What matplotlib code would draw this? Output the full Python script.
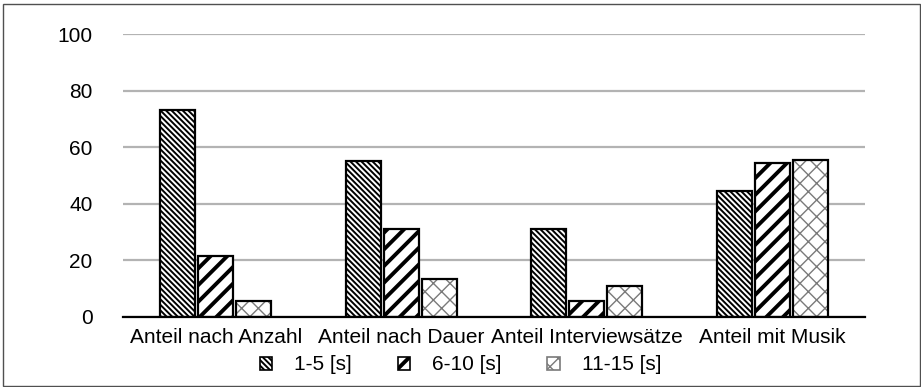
import numpy as np
import matplotlib
matplotlib.use("Agg")
import matplotlib.pyplot as plt
from matplotlib.patches import Rectangle, Patch

plt.rcParams['font.family'] = ['Liberation Sans', 'DejaVu Sans']

categories = ["Anteil nach Anzahl", "Anteil nach Dauer", "Anteil Interviewsätze", "Anteil mit Musik"]
series_labels = ["1-5 [s]", "6-10 [s]", "11-15 [s]"]
s1 = [73, 55, 31, 44.5]
s2 = [21.5, 31, 5.8, 54.3]
s3 = [5.5, 13.5, 11, 55.5]
yticks = [0, 20, 40, 60, 80, 100]

hatches = ['\\' * 6, '//', 'xx']
hatch_lw = [1.4, 2.8, 1.0]
hatch_colors = ['black', 'black', '#7a7a7a']
FS = 15

W, H = 921, 387
fig = plt.figure(figsize=(W / 100, H / 100), dpi=100)
ax = fig.add_axes([123 / W, (H - 317) / H, (865 - 123) / W, (317 - 34) / H])

x = np.arange(len(categories))
width = 0.19
offsets = [-0.205, 0.0, 0.205]

for vals, off, h, hlw, hc in zip([s1, s2, s3], offsets, hatches, hatch_lw, hatch_colors):
    bars = ax.bar(x + off, vals, width, color='white', edgecolor=hc,
                  hatch=h, linewidth=0, zorder=3)
    for b in bars:
        if hasattr(b, 'set_hatch_linewidth'):
            b.set_hatch_linewidth(hlw)
    ax.bar(x + off, vals, width, color='none', edgecolor='black',
           linewidth=1.6, zorder=4)

ax.set_ylim(0, 100)
ax.set_xlim(-0.5, len(categories) - 0.5)
ax.set_yticks(yticks)
ax.set_xticks(x)
ax.set_xticklabels(categories)
ax.tick_params(axis='both', length=0, labelsize=FS, colors='black')
ax.tick_params(axis='y', pad=22)
ax.tick_params(axis='x', pad=8)
ax.yaxis.grid(True, color='#b3b3b3', linewidth=1.6, zorder=0)
ax.set_axisbelow(True)
for side in ['top', 'right', 'left']:
    ax.spines[side].set_visible(False)
ax.spines['bottom'].set_linewidth(1.6)
ax.spines['bottom'].set_zorder(5)

handles = [Patch(facecolor='white', edgecolor=hc, hatch=h, linewidth=1.2)
           for h, hc in zip(hatches, hatch_colors)]
leg = fig.legend(handles, series_labels, loc='center', bbox_to_anchor=(0.5, (H - 365) / H),
                 ncol=3, frameon=False, fontsize=FS, handlelength=0.6, handleheight=0.6,
                 handletextpad=1.05, columnspacing=2.2, borderpad=0)
for p, hlw in zip(leg.get_patches(), hatch_lw):
    if hasattr(p, 'set_hatch_linewidth'):
        p.set_hatch_linewidth(hlw)

fig.patches.append(Rectangle((3 / W, 1 / H), (920 - 3) / W, (383 - 1) / H,
                             transform=fig.transFigure, fill=False,
                             edgecolor='#505050', linewidth=1.0))

fig.savefig('out.png', dpi=100)
